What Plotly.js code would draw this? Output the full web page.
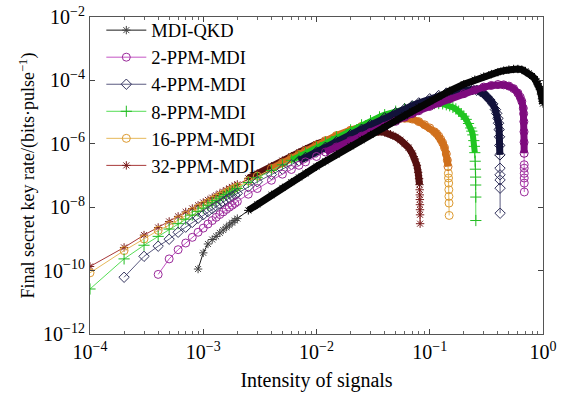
<!DOCTYPE html>
<html><head><meta charset="utf-8">
<script src="https://cdn.plot.ly/plotly-3.0.1.min.js"></script>
<style>html,body{margin:0;padding:0;background:#fff;}#chart{width:569px;height:403px;}</style>
</head><body><div id="chart"></div>
<script>
// ---------- data ----------
const seriesNames = ['MDI-QKD', '2-PPM-MDI', '4-PPM-MDI', '8-PPM-MDI', '16-PPM-MDI', '32-PPM-MDI'];

const mdiX = [9e-4,1e-3,1.1e-3,1.2e-3,1.3e-3,1.4e-3,1.5e-3,1.6e-3,1.7e-3,1.8e-3,1.9e-3,2e-3,2.5e-3,3e-3,4e-3,5e-3,6e-3,7e-3,8e-3,1e-2,1.2e-2,1.5e-2,2e-2,2.5e-2,3e-2,4e-2,5e-2,6e-2,7e-2,8e-2,0.1,0.12,0.15,0.2,0.25,0.3,0.35,0.4,0.45,0.5,0.55,0.6,0.65,0.7,0.75,0.8,0.85,0.88,0.9,0.92,0.94,0.96,0.98,0.99,1.0];
const mdiY = [1.12e-10,3.63e-10,6.92e-10,9.55e-10,1.20e-9,1.55e-9,1.91e-9,2.34e-9,2.75e-9,3.24e-9,3.80e-9,4.37e-9,7.94e-9,1.23e-8,2.45e-8,4.07e-8,6.17e-8,8.71e-8,1.17e-7,1.91e-7,2.82e-7,4.57e-7,8.32e-7,1.32e-6,1.91e-6,3.39e-6,5.37e-6,7.76e-6,1.07e-5,1.41e-5,2.19e-5,3.09e-5,4.68e-5,7.59e-5,1.05e-4,1.32e-4,1.58e-4,1.82e-4,2.04e-4,2.19e-4,2.29e-4,2.29e-4,2.19e-4,1.95e-4,1.66e-4,1.38e-4,1.10e-4,9.12e-5,7.76e-5,6.46e-5,5.13e-5,3.72e-5,2.63e-5,2.19e-5,1.86e-5];

const ppm2X = [4e-4,5e-4,6e-4,7e-4,8e-4,9e-4,1e-3,1.1e-3,1.2e-3,1.3e-3,1.4e-3,1.5e-3,1.6e-3,1.7e-3,1.8e-3,1.9e-3,2e-3,2.5e-3,3e-3,4e-3,5e-3,6e-3,7e-3,8e-3,1e-2,1.2e-2,1.5e-2,2e-2,2.5e-2,3e-2,4e-2,5e-2,6e-2,7e-2,8e-2,0.1,0.12,0.15,0.2,0.25,0.3,0.35,0.4,0.45,0.5,0.55,0.6,0.63,0.65,0.67,0.675,0.678,0.68,0.681,0.6815,0.682,0.6823,0.6826,0.6829,0.6832,0.6836];
const ppm2Y = [7.59e-11,2.34e-10,4.57e-10,7.41e-10,1.12e-9,1.62e-9,2.19e-9,2.95e-9,3.80e-9,4.79e-9,5.89e-9,7.08e-9,8.51e-9,1.00e-8,1.15e-8,1.32e-8,1.51e-8,2.57e-8,3.89e-8,7.08e-8,1.10e-7,1.55e-7,2.09e-7,2.69e-7,3.98e-7,5.50e-7,7.94e-7,1.26e-6,1.74e-6,2.29e-6,3.55e-6,5.13e-6,6.92e-6,8.91e-6,1.10e-5,1.51e-5,1.95e-5,2.63e-5,3.80e-5,5.01e-5,6.17e-5,6.92e-5,7.41e-5,7.24e-5,6.61e-5,5.50e-5,3.98e-5,2.95e-5,2.19e-5,1.32e-5,8.91e-6,5.01e-6,2.40e-6,1.12e-6,5.01e-7,2.19e-7,1.70e-7,1.17e-7,8.32e-8,5.75e-8,3.02e-8];

const ppm4X = [2e-4,3e-4,4e-4,5e-4,6e-4,7e-4,8e-4,9e-4,1e-3,1.1e-3,1.2e-3,1.3e-3,1.4e-3,1.5e-3,1.6e-3,1.7e-3,1.8e-3,1.9e-3,2e-3,2.5e-3,3e-3,4e-3,5e-3,6e-3,7e-3,8e-3,1e-2,1.2e-2,1.5e-2,2e-2,2.5e-2,3e-2,4e-2,5e-2,6e-2,7e-2,8e-2,0.1,0.12,0.14,0.16,0.18,0.2,0.22,0.24,0.26,0.28,0.3,0.32,0.34,0.36,0.38,0.39,0.4,0.405,0.41,0.413,0.415,0.416,0.417,0.4173,0.4176,0.4179,0.4182];
const ppm4Y = [6.17e-11,2.82e-10,5.89e-10,9.77e-10,1.62e-9,2.34e-9,3.31e-9,4.47e-9,5.75e-9,7.24e-9,8.91e-9,1.07e-8,1.26e-8,1.48e-8,1.70e-8,1.95e-8,2.19e-8,2.45e-8,2.75e-8,4.37e-8,6.31e-8,1.07e-7,1.58e-7,2.19e-7,2.88e-7,3.72e-7,5.50e-7,7.76e-7,1.17e-6,1.95e-6,2.88e-6,3.98e-6,6.61e-6,9.55e-6,1.26e-5,1.58e-5,1.95e-5,2.63e-5,3.31e-5,3.98e-5,4.47e-5,4.79e-5,5.01e-5,5.13e-5,5.13e-5,4.90e-5,4.47e-5,3.80e-5,3.02e-5,2.40e-5,1.82e-5,1.20e-5,9.12e-6,6.31e-6,4.47e-6,2.82e-6,1.66e-6,8.91e-7,4.47e-7,1.70e-7,1.05e-7,7.24e-8,3.98e-8,6.46e-9];

const ppm8X = [1e-4,2e-4,3e-4,4e-4,5e-4,6e-4,7e-4,8e-4,9e-4,1e-3,1.1e-3,1.2e-3,1.3e-3,1.4e-3,1.5e-3,1.6e-3,1.7e-3,1.8e-3,1.9e-3,2e-3,2.5e-3,3e-3,4e-3,5e-3,6e-3,7e-3,8e-3,1e-2,1.2e-2,1.5e-2,2e-2,2.5e-2,3e-2,3.6e-2,4e-2,5e-2,6e-2,7e-2,8e-2,9e-2,0.1,0.11,0.12,0.13,0.14,0.15,0.16,0.17,0.18,0.19,0.2,0.21,0.22,0.23,0.235,0.24,0.245,0.248,0.25,0.252,0.253,0.254,0.2545,0.255,0.2552];
const ppm8Y = [2.63e-11,2.34e-10,6.31e-10,1.20e-9,2.04e-9,3.02e-9,4.17e-9,5.62e-9,7.41e-9,9.33e-9,1.15e-8,1.38e-8,1.62e-8,1.91e-8,2.19e-8,2.51e-8,2.82e-8,3.16e-8,3.47e-8,3.89e-8,6.03e-8,8.51e-8,1.45e-7,2.19e-7,3.02e-7,3.98e-7,5.13e-7,7.76e-7,1.10e-6,1.66e-6,2.75e-6,3.98e-6,5.37e-6,7.08e-6,8.32e-6,1.07e-5,1.29e-5,1.48e-5,1.62e-5,1.74e-5,1.82e-5,1.86e-5,1.86e-5,1.82e-5,1.70e-5,1.58e-5,1.41e-5,1.26e-5,1.07e-5,8.91e-6,7.41e-6,5.89e-6,4.37e-6,3.16e-6,2.51e-6,1.91e-6,1.26e-6,8.32e-7,5.25e-7,2.82e-7,1.58e-7,8.91e-8,5.01e-8,2.09e-8,3.80e-9];

const ppm16X = [1e-4,2e-4,3e-4,4e-4,5e-4,6e-4,7e-4,8e-4,9e-4,1e-3,1.1e-3,1.2e-3,1.3e-3,1.4e-3,1.5e-3,1.6e-3,1.7e-3,1.8e-3,1.9e-3,2e-3,2.5e-3,3e-3,4e-3,5e-3,6e-3,7e-3,8e-3,1e-2,1.2e-2,1.5e-2,2e-2,2.5e-2,3e-2,3.5e-2,4e-2,5e-2,5.5e-2,6e-2,7e-2,8e-2,9e-2,0.1,0.11,0.115,0.12,0.125,0.13,0.135,0.14,0.143,0.145,0.146,0.1465,0.147,0.1474,0.1477,0.148,0.1484];
const ppm16Y = [8.51e-11,4.27e-10,1.00e-9,1.86e-9,2.69e-9,3.98e-9,5.50e-9,7.24e-9,9.33e-9,1.15e-8,1.38e-8,1.66e-8,1.95e-8,2.24e-8,2.57e-8,2.88e-8,3.24e-8,3.63e-8,3.98e-8,4.37e-8,6.76e-8,9.55e-8,1.66e-7,2.51e-7,3.55e-7,4.68e-7,6.03e-7,9.12e-7,1.26e-6,1.82e-6,2.69e-6,3.55e-6,4.37e-6,5.01e-6,5.62e-6,6.31e-6,6.46e-6,6.46e-6,6.03e-6,5.01e-6,3.98e-6,3.16e-6,2.40e-6,2.09e-6,1.74e-6,1.38e-6,1.07e-6,7.59e-7,4.79e-7,3.02e-7,1.91e-7,1.17e-7,8.32e-8,5.75e-8,3.55e-8,2.19e-8,1.35e-8,5.50e-9];

const ppm32X = [1e-4,2e-4,3e-4,4e-4,5e-4,6e-4,7e-4,8e-4,9e-4,1e-3,1.1e-3,1.2e-3,1.3e-3,1.4e-3,1.5e-3,1.6e-3,1.7e-3,1.8e-3,1.9e-3,2e-3,2.5e-3,3e-3,4e-3,5e-3,6e-3,7e-3,8e-3,1e-2,1.2e-2,1.5e-2,2e-2,2.5e-2,3e-2,3.5e-2,4e-2,4.5e-2,5e-2,5.5e-2,6e-2,6.5e-2,7e-2,7.4e-2,7.7e-2,7.9e-2,8.05e-2,8.12e-2,8.15e-2,8.17e-2,8.18e-2,8.19e-2,8.2e-2,8.21e-2,8.22e-2];
const ppm32Y = [1.35e-10,5.37e-10,1.32e-9,2.29e-9,3.55e-9,5.13e-9,7.08e-9,9.12e-9,1.15e-8,1.41e-8,1.70e-8,2.00e-8,2.34e-8,2.69e-8,3.09e-8,3.47e-8,3.89e-8,4.37e-8,4.79e-8,5.25e-8,8.13e-8,1.15e-7,1.95e-7,2.95e-7,4.07e-7,5.37e-7,6.76e-7,9.77e-7,1.26e-6,1.62e-6,2.04e-6,2.29e-6,2.40e-6,2.40e-6,2.29e-6,2.00e-6,1.66e-6,1.32e-6,1.02e-6,7.59e-7,5.01e-7,3.31e-7,2.09e-7,1.26e-7,7.94e-8,5.13e-8,3.55e-8,2.45e-8,1.74e-8,1.20e-8,8.32e-9,5.75e-9,3.02e-9];

const xTickVals = [1e-4, 1e-3, 1e-2, 1e-1, 1];
const xTickText = ['10<sup>−4</sup>', '10<sup>−3</sup>', '10<sup>−2</sup>', '10<sup>−1</sup>', '10<sup>0</sup>'];
const yTickVals = [1e-12, 1e-10, 1e-8, 1e-6, 1e-4, 1e-2];
const yTickText = ['10<sup>−12</sup>', '10<sup>−10</sup>', '10<sup>−8</sup>', '10<sup>−6</sup>', '10<sup>−4</sup>', '10<sup>−2</sup>'];

// ---------- styles ----------
const FONT = 'Liberation Serif';
const styles = [
  {x: mdiX,  y: mdiY,  name: seriesNames[0], line: '#1a1a1a', marker: '#444444', band: '#050505', symbol: 'asterisk-open', size: 7, bandW: 7, bandMin: 1e-12},
  {x: ppm2X, y: ppm2Y, name: seriesNames[1], line: '#c455c4', marker: '#9a2a9a', band: '#7d0a7d', symbol: 'circle-open', size: 8, bandW: 7, bandMin: 4e-7},
  {x: ppm4X, y: ppm4Y, name: seriesNames[2], line: '#5a5a80', marker: '#34345e', band: '#12123a', symbol: 'diamond-open', size: 8, bandW: 7, bandMin: 2.5e-7},
  {x: ppm8X, y: ppm8Y, name: seriesNames[3], line: '#55dd55', marker: '#22bb22', band: '#1fc41f', symbol: 'cross-thin-open', size: 8, bandW: 6, bandMin: 3e-7},
  {x: ppm16X, y: ppm16Y, name: seriesNames[4], line: '#e6b85a', marker: '#dd9a30', band: '#d0701c', symbol: 'circle-open', size: 8, bandW: 7, bandMin: 1.2e-7},
  {x: ppm32X, y: ppm32Y, name: seriesNames[5], line: '#a83a3a', marker: '#7a1c1c', band: '#561010', symbol: 'asterisk-open', size: 7, bandW: 7, bandMin: 5e-8}
];

const traces = [];
// draw the last series first so MDI-QKD ends on top
for (let k = styles.length - 1; k >= 0; k--) {
  const s = styles[k];
  const bx = [], by = [], mcol = [];
  for (let i = 0; i < s.x.length; i++) {
    const inBand = s.x[i] >= 2.5e-3 && s.y[i] >= s.bandMin;
    if (inBand) { bx.push(s.x[i]); by.push(s.y[i]); }
    mcol.push(inBand ? s.band : s.marker);
  }
  traces.push({x: s.x, y: s.y, type: 'scatter', mode: 'lines+markers', name: s.name,
    line: {color: s.line, width: 1},
    marker: {symbol: s.symbol, size: s.size, color: mcol, line: {color: mcol, width: 1}}});
  traces.push({x: bx, y: by, type: 'scatter', mode: 'lines', showlegend: false, hoverinfo: 'skip',
    line: {color: s.band, width: s.bandW}});
}

const minorX = [];
for (let d = -4; d < 0; d++) for (let m = 2; m <= 9; m++) minorX.push(m * Math.pow(10, d));

const layout = {
  width: 569, height: 403,
  margin: {l: 90, r: 26, t: 15, b: 69},
  paper_bgcolor: '#ffffff', plot_bgcolor: '#ffffff',
  font: {family: FONT, size: 20, color: '#000'},
  showlegend: true,
  legend: {x: 0.025, y: 1.017, xanchor: 'left', yanchor: 'top', traceorder: 'reversed',
    bgcolor: 'rgba(0,0,0,0)', borderwidth: 0, font: {family: FONT, size: 18.5, color: '#000'},
    itemwidth: 40, tracegroupgap: 0},
  xaxis: {type: 'log', range: [-4, 0], tickmode: 'array', tickvals: xTickVals, ticktext: xTickText,
    ticks: 'inside', ticklen: 5, tickwidth: 1, tickcolor: '#444', showline: true, linecolor: '#555', linewidth: 1,
    mirror: 'ticks', showgrid: false, zeroline: false, tickfont: {family: FONT, size: 20, color: '#000'},
    minor: {tickmode: 'array', tickvals: minorX, ticks: 'inside', ticklen: 3, tickcolor: '#666', showgrid: false},
    title: {text: 'Intensity of signals', font: {family: FONT, size: 20, color: '#000'}, standoff: 10}},
  yaxis: {type: 'log', range: [-12, -2], tickmode: 'array', tickvals: yTickVals, ticktext: yTickText,
    ticks: 'inside', ticklen: 5, tickwidth: 1, tickcolor: '#444', showline: true, linecolor: '#555', linewidth: 1,
    mirror: 'ticks', showgrid: false, zeroline: false, tickfont: {family: FONT, size: 20, color: '#000'},
    title: {text: 'Final secret key rate/(bits·pulse<sup>−1</sup>)', font: {family: FONT, size: 18, color: '#000'}, standoff: 3}}
};

Plotly.newPlot('chart', traces, layout, {displayModeBar: false, staticPlot: true});
</script></body></html>
